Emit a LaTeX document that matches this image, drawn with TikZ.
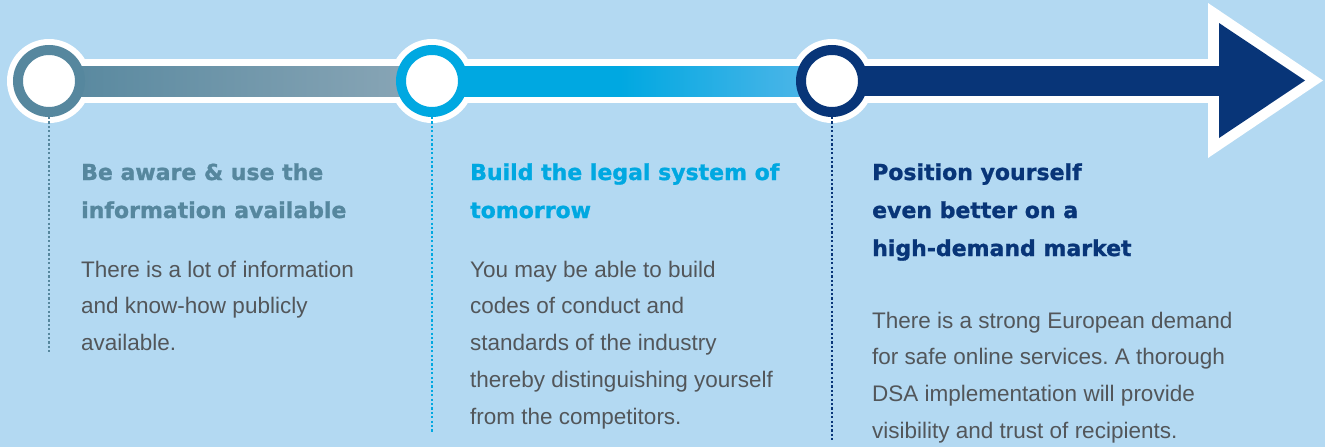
\documentclass[tikz,border=0pt]{standalone}
\usepackage{fontspec}
\setmainfont{Liberation Sans}
\newfontfamily\headfont{DejaVu Sans}[BoldFeatures={FakeBold=1.2}]
\definecolor{bg}{RGB}{179,217,242}
\definecolor{steel}{RGB}{86,135,158}
\definecolor{steellight}{RGB}{139,167,183}
\definecolor{cyanc}{RGB}{0,168,225}
\definecolor{cyanlight}{RGB}{87,183,233}
\definecolor{navy}{RGB}{8,53,120}
\definecolor{bodygray}{RGB}{82,86,90}
\pgfdeclarehorizontalshading{cyanbar}{100bp}{color(0bp)=(cyanc); color(25bp)=(cyanc); color(48.5bp)=(cyanc); color(75bp)=(cyanlight); color(100bp)=(cyanlight)}
\frenchspacing
\begin{document}
\begin{tikzpicture}[x=1pt,y=-1pt,
  ring/.style={circle,fill=white,line width=10pt,minimum size=62pt,inner sep=0pt},
  dotline/.style={line width=2.6pt,dash pattern=on 2.1pt off 2.3pt},
  title/.style={anchor=base west,align=left,inner sep=0pt,font=\headfont\bfseries\fontsize{22}{38}\selectfont},
  body/.style={anchor=base west,align=left,inner sep=0pt,text=bodygray,font=\fontsize{22.5}{36.8}\selectfont}]
\fill[bg] (0,0) rectangle (1325,447);
\useasboundingbox (0,0) rectangle (1325,447);
\coordinate (p1) at (49,81);
\coordinate (p2) at (432,81);
\coordinate (p3) at (832,81);
% white backing
\fill[white] (49,59) rectangle (1210,103);
\fill[white] (p1) circle (42);
\fill[white] (p2) circle (42);
\fill[white] (p3) circle (42);
\fill[white] (1208,3) -- (1323,80.5) -- (1208,158) -- cycle;
% coloured bars
\shade[left color=steel,right color=steellight] (49,66) rectangle (432,96);
\shade[shading=cyanbar] (432,66) rectangle (832,96);
\fill[navy] (832,66) rectangle (1220,96);
\fill[navy] (1219,23) -- (1305,80.5) -- (1219,138) -- cycle;
% rings
\node[ring,draw=steel] (c1) at (p1) {};
\node[ring,draw=cyanc] (c2) at (p2) {};
\node[ring,draw=navy] (c3) at (p3) {};
% dotted lines
\coordinate (e1) at (49,352);
\coordinate (e2) at (432,432);
\coordinate (e3) at (832,440);
\draw[dotline,steel] (c1.south) -- (e1);
\draw[dotline,cyanc] (c2.south) -- (e2);
\draw[dotline,navy] (c3.south) -- (e3);
% texts (anchor = baseline of the last line)
\node[title,text=steel] (t1) at (81,218) {Be aware \& use the\\information available};
\node[body] (b1) at (81,350.6) {There is a lot of information\\and know-how publicly\\available.};
\node[title,text=cyanc] (t2) at (470,218) {Build the legal system of\\tomorrow};
\node[body] (b2) at (470,424.2) {You may be able to build\\codes of conduct and\\standards of the industry\\thereby distinguishing yourself\\from the competitors.};
\node[title,text=navy] (t3) at (872,256) {Position yourself\\even better on a\\high-demand market};
\node[body] (b3) at (872,438.4) {There is a strong European demand\\for safe online services. A thorough\\DSA implementation will provide\\visibility and trust of recipients.};
\end{tikzpicture}
\end{document}
